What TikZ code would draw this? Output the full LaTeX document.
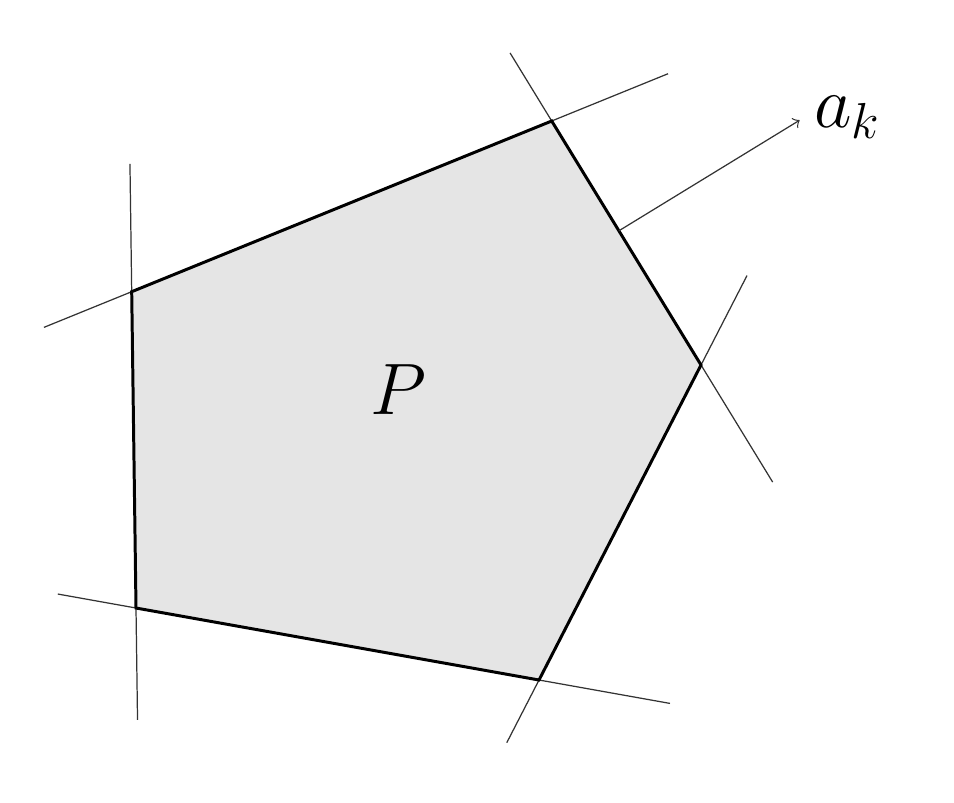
\documentclass[tikz,border=0pt]{standalone}
\usepackage{amsmath}
\usepackage{amsfonts}
\usetikzlibrary{calc}

\begin{document}
\begin{tikzpicture}[edge/.style={line width=0.85pt},support/.style={line width=0.35pt,black!80},biglabel/.style={font=\fontsize{20.5}{24}\selectfont}]
				\useasboundingbox (0,0) rectangle (9.54,8.02);
				\coordinate (A) at (1.317,5.103);
				\coordinate (B) at (5.517,6.81);
				\coordinate (C) at (7.01,4.37);
				\coordinate (D) at (5.39,1.22);
				\coordinate (E) at (1.36,1.94);
				\fill[black!10] (A) -- (B) -- (C) -- (D) -- (E) -- cycle;
				\draw[support] ($(A)!-0.209!(B)$) -- ($(A)!1.277!(B)$);
				\draw[support] ($(B)!-0.279!(C)$) -- ($(B)!1.48!(C)$);
				\draw[support] ($(C)!-0.284!(D)$) -- ($(C)!1.199!(D)$);
				\draw[support] ($(D)!-0.325!(E)$) -- ($(D)!1.194!(E)$);
				\draw[support] ($(E)!-0.354!(A)$) -- ($(E)!1.404!(A)$);
				\draw[edge,line join=miter] (A) -- (B) -- (C) -- (D) -- (E) -- cycle;
				\coordinate (S) at ($(B)!0.45!(C)$);
				\coordinate (T) at ($(S)!2.12cm!90:(C)$);
				\draw[support,->] (S) -- (T);
				\node[biglabel,font=\fontsize{22.5}{26}\selectfont,anchor=west,inner sep=0pt,xshift=0.14cm,yshift=0.03cm] (ak) at (T) {$a_k$};
				\node[biglabel] (P) at (3.98,4.12) {$P$};
			\end{tikzpicture}
\end{document}
